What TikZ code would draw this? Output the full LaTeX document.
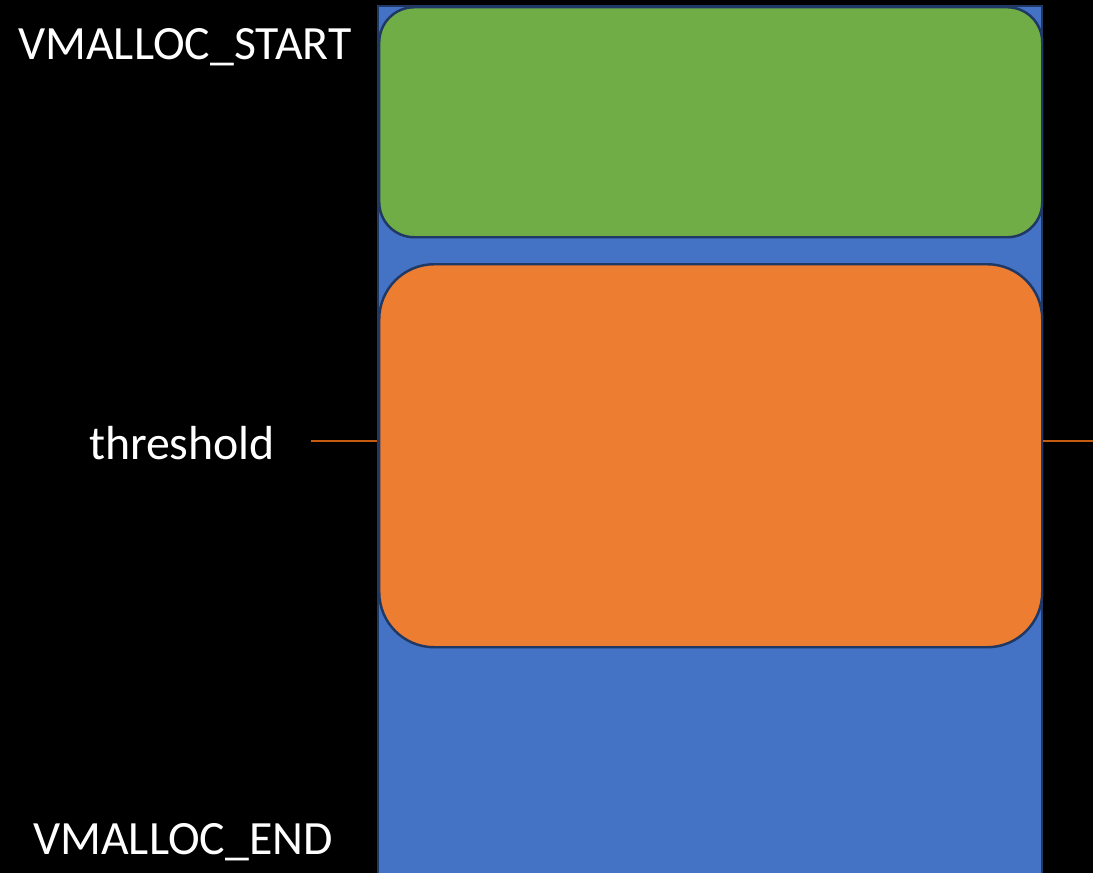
\documentclass[tikz,border=0pt]{standalone}
\usepackage{fontspec}
\setmainfont{Carlito}
\usetikzlibrary{positioning}

\definecolor{bgblue}{HTML}{4472C4}
\definecolor{regiongreen}{HTML}{70AD47}
\definecolor{regionorange}{HTML}{ED7D31}
\definecolor{edgenavy}{HTML}{1F3864}
\definecolor{markline}{HTML}{C55A11}

\begin{document}
\begin{tikzpicture}[
    x=0.02cm,
    y=-0.02cm,
    region/.style={draw=edgenavy, line width=1.4pt, inner sep=0pt, anchor=north west},
    addr/.style={text=white, font=\fontsize{27.2}{30}\selectfont}
]
\fill[black] (0,0) rectangle (1093,873);
\useasboundingbox (0,0) rectangle (1093,873);
\clip (0,0) rectangle (1093,873);

%---------------- Address space ----------------
\node[region, fill=bgblue, minimum width=664*0.02cm, minimum height=880*0.02cm] (space) at (377,5) {};

%---------------- Allocated regions ----------------
\node[region, fill=regiongreen, rounded corners=0.7cm, minimum width=663*0.02cm, minimum height=230*0.02cm] (low) at (378,6) {};
\node[region, fill=regionorange, rounded corners=1.1cm, minimum width=663*0.02cm, minimum height=383*0.02cm] (high) at (378,263) {};

%---------------- Labels ----------------
\node[addr] (start) at (185,47) {VMALLOC\_START};
\node[addr] (thr) at (182,443) {threshold};
\node[addr] (end) at (183,842) {VMALLOC\_END};

%---------------- Threshold mark ----------------
\coordinate (tl) at (311,441);
\coordinate (tr) at (1093,441);
\draw[markline, line width=0.9pt] (tl) -- (tl -| space.west);
\draw[markline, line width=0.9pt] (tl -| space.east) -- (tr);
\end{tikzpicture}
\end{document}
